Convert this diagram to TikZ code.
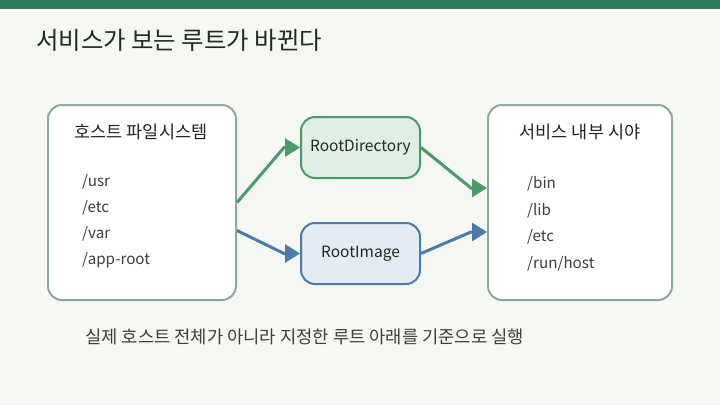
\documentclass[tikz,border=0pt]{standalone}
\usepackage{fontspec}
\setmainfont{Noto Sans CJK KR}
\usetikzlibrary{arrows.meta}
\definecolor{bgc}{HTML}{F5F7F2}
\definecolor{barc}{HTML}{2E7D5A}
\definecolor{boxborder}{HTML}{8FA89A}
\definecolor{gline}{HTML}{4A9A6A}
\definecolor{gfill}{HTML}{E0EFE5}
\definecolor{bline}{HTML}{4A7BAA}
\definecolor{bfill}{HTML}{E3EBF5}
\definecolor{titlec}{HTML}{1E2A22}
\definecolor{textc}{HTML}{3A403C}
\tikzset{
  bigbox/.style={draw=boxborder, line width=2pt, fill=white, rounded corners=14pt, inner sep=0pt},
  midbox/.style={line width=2pt, rounded corners=14pt, inner sep=0pt, minimum width=119pt, minimum height=61pt, font=\fontsize{15.5}{18}\selectfont, text=titlec},
  greenbox/.style={midbox, draw=gline, fill=gfill},
  bluebox/.style={midbox, draw=bline, fill=bfill},
  head/.style={font=\fontsize{17.5}{20}\selectfont, text=titlec, inner sep=0pt},
  item/.style={font=\fontsize{15.2}{18}\selectfont, text=textc, anchor=west, inner sep=0pt},
  garrow/.style={draw=gline, line width=3pt, -{Triangle[length=15pt,width=18pt]}},
  barrow/.style={draw=bline, line width=3pt, -{Triangle[length=15pt,width=18pt]}},
}
\begin{document}
\begin{tikzpicture}[x=1pt,y=-1pt]
\fill[bgc] (0,0) rectangle (720,405);
\fill[barc] (0,0) rectangle (720,9);
\useasboundingbox (0,0) rectangle (720,405);

\node[anchor=west, inner sep=0pt, font=\fontsize{24.4}{28}\selectfont, text=titlec] (title) at (36,40) {서비스가 보는 루트가 바뀐다};

% left box
\node[bigbox, minimum width=188pt, minimum height=195pt] (L) at (142,202.5) {};
\node[head] (Lh) at (141,132) {호스트 파일시스템};
\node[item] (L1) at (82,182) {/usr};
\node[item] (L2) at (82,208) {/etc};
\node[item] (L3) at (82,234) {/var};
\node[item] (L4) at (82,260) {/app-root};

% right box
\node[bigbox, minimum width=184pt, minimum height=195pt] (R) at (580,202.5) {};
\node[head] (Rh) at (580,132) {서비스 내부 시야};
\node[item] (R1) at (527,184) {/bin};
\node[item] (R2) at (527,211) {/lib};
\node[item] (R3) at (527,237) {/etc};
\node[item] (R4) at (527,264) {/run/host};

% middle boxes
\node[greenbox] (D) at (360.5,147.5) {RootDirectory};
\node[bluebox] (I) at (360.5,253.5) {RootImage};

% arrows
\draw[garrow] (L.east) -- ([xshift=-16pt]D.west) -- (D.west);
\draw[barrow] ([yshift=-28pt]L.east) -- ([xshift=-16pt]I.west) -- (I.west);
\draw[garrow] (D.east) -- ([xshift=-16pt,yshift=14.5pt]R.west) -- ([yshift=14.5pt]R.west);
\draw[barrow] (I.east) -- ([xshift=-16pt,yshift=-29.5pt]R.west) -- ([yshift=-29.5pt]R.west);

\node[anchor=west, inner sep=0pt, font=\fontsize{17.7}{21}\selectfont, text=textc] (note) at (85,337) {실제 호스트 전체가 아니라 지정한 루트 아래를 기준으로 실행};
\end{tikzpicture}
\end{document}
